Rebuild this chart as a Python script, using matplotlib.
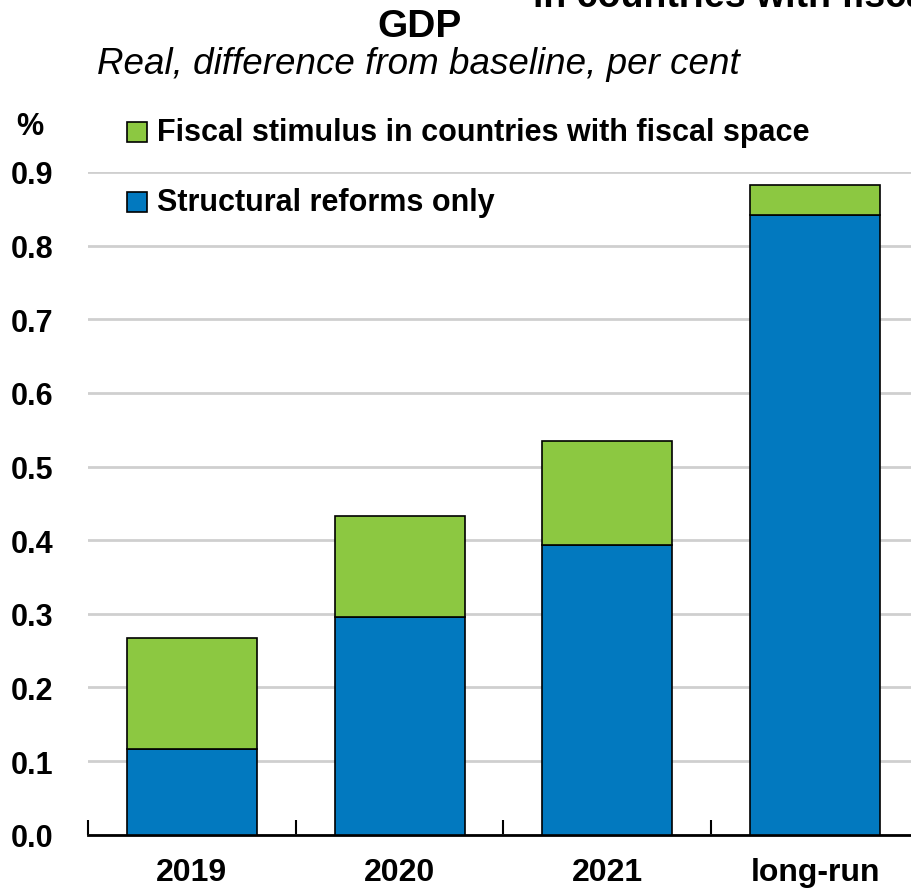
import matplotlib
matplotlib.use("Agg")
import matplotlib.pyplot as plt
from matplotlib import font_manager
from matplotlib.patches import Rectangle

categories = ["2019", "2020", "2021", "long-run"]
structural = [0.117, 0.295, 0.393, 0.841]
fiscal = [0.150, 0.138, 0.142, 0.041]
yticks = [0.0, 0.1, 0.2, 0.3, 0.4, 0.5, 0.6, 0.7, 0.8, 0.9]
series_labels = ["Fiscal stimulus in countries with fiscal space", "Structural reforms only"]

names = {f.name for f in font_manager.fontManager.ttflist}
narrow = "Liberation Sans Narrow" if "Liberation Sans Narrow" in names else "Liberation Sans"
base = "Liberation Sans"

BLUE = "#0279BF"
GREEN = "#8CC841"

W, H = 912, 895
fig = plt.figure(figsize=(W / 100, H / 100), dpi=100)

left = 88 / W
right = 919 / W
bottom = (H - 835.7) / H
top = (H - 173) / H
ax = fig.add_axes([left, bottom, right - left, top - bottom])

x = list(range(len(categories)))
ax.bar(x, structural, width=0.625, color=BLUE, edgecolor="black", linewidth=1.2, zorder=3)
ax.bar(x, fiscal, bottom=structural, width=0.625, color=GREEN, edgecolor="black", linewidth=1.2, zorder=3)

ax.set_xlim(-0.5, len(categories) - 0.5)
ax.set_ylim(0, 0.9)
ax.set_yticks(yticks)
ax.set_yticklabels([f"{v:.1f}" for v in yticks], fontfamily=narrow, fontweight="bold", fontsize=22)
ax.tick_params(axis="y", length=0, pad=25)
ax.yaxis.grid(True, color="#CFCFCF", linewidth=2, zorder=0)
ax.set_axisbelow(True)

ax.set_xticks(x)
ax.set_xticklabels(categories, fontfamily=narrow, fontweight="bold", fontsize=23)
ax.tick_params(axis="x", length=0, pad=16)
ax.set_xticks([i - 0.5 for i in range(len(categories) + 1)], minor=True)
ax.tick_params(axis="x", which="minor", direction="in", length=11, width=1.5, color="black")

for s in ["left", "right", "top"]:
    ax.spines[s].set_visible(False)
ax.spines["bottom"].set_linewidth(2)
ax.spines["bottom"].set_color("black")

# titles
fig.text(420 / W, 1 - 37 / H, "GDP", ha="center", va="baseline",
         fontfamily=base, fontweight="bold", fontsize=28)
fig.text(533 / W, 1 - 7 / H, "in countries with fiscal space", ha="left", va="baseline",
         fontfamily=base, fontweight="bold", fontsize=27)
fig.text(97 / W, 1 - 74 / H, "Real, difference from baseline, per cent", ha="left", va="baseline",
         fontfamily=base, fontstyle="italic", fontsize=26.5)
fig.text(30 / W, 1 - 127 / H, "%", ha="center", va="center",
         fontfamily=narrow, fontweight="bold", fontsize=22)

# legend
colors = [GREEN, BLUE]
ys = [133, 202.5]
for lab, c, yy in zip(series_labels, colors, ys):
    fig.patches.append(Rectangle((127 / W, 1 - (yy + 10) / H), 20 / W, 20 / H,
                                 transform=fig.transFigure, facecolor=c,
                                 edgecolor="black", linewidth=1.2))
    fig.text(157 / W, 1 - yy / H, lab, ha="left", va="center",
             fontfamily=narrow, fontweight="bold", fontsize=22)

fig.savefig("out.png", dpi=100)
